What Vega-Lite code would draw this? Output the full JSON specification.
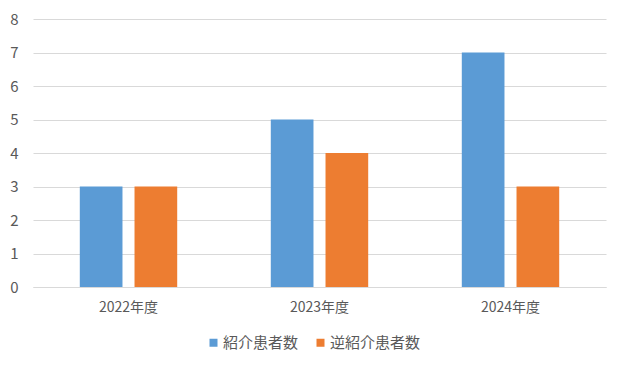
{
  "$schema": "https://vega.github.io/schema/vega-lite/v6.json",
  "autosize": "none",
  "width": 573,
  "height": 268,
  "padding": {"left": 33, "top": 19, "right": 19, "bottom": 82},
  "background": "white",
  "config": {
    "view": {"stroke": null},
    "font": "Noto Sans CJK JP"
  },
  "data": {
    "values": [
      {"year": "2022年度", "series": "紹介患者数", "value": 3},
      {"year": "2022年度", "series": "逆紹介患者数", "value": 3},
      {"year": "2023年度", "series": "紹介患者数", "value": 5},
      {"year": "2023年度", "series": "逆紹介患者数", "value": 4},
      {"year": "2024年度", "series": "紹介患者数", "value": 7},
      {"year": "2024年度", "series": "逆紹介患者数", "value": 3}
    ]
  },
  "mark": {"type": "bar"},
  "encoding": {
    "x": {
      "field": "year", "type": "nominal", "title": null,
      "scale": {"paddingInner": 0.49, "paddingOuter": 0.245},
      "axis": {"labelAngle": 0, "ticks": false, "domainColor": "#d9d9d9", "labelColor": "#595959", "labelFontSize": 14, "labelPadding": 13}
    },
    "xOffset": {"field": "series", "type": "nominal", "scale": {"paddingInner": 0.22, "paddingOuter": 0}},
    "y": {
      "field": "value", "type": "quantitative", "title": null,
      "scale": {"domain": [0, 8]},
      "axis": {"values": [0,1,2,3,4,5,6,7,8], "labelOverlap": false, "domain": false, "ticks": false, "gridColor": "#d9d9d9", "labelColor": "#595959", "labelFontSize": 15, "labelPadding": 15}
    },
    "color": {
      "field": "series", "type": "nominal",
      "scale": {"domain": ["紹介患者数", "逆紹介患者数"], "range": ["#5b9bd5", "#ed7d31"]},
      "legend": {"orient": "none", "legendX": 173, "legendY": 316, "direction": "horizontal", "title": null, "symbolType": "square", "symbolSize": 64, "symbolStrokeWidth": 0, "labelFontSize": 15, "labelColor": "#595959", "labelOffset": 2, "columnPadding": 14}
    }
  }
}
